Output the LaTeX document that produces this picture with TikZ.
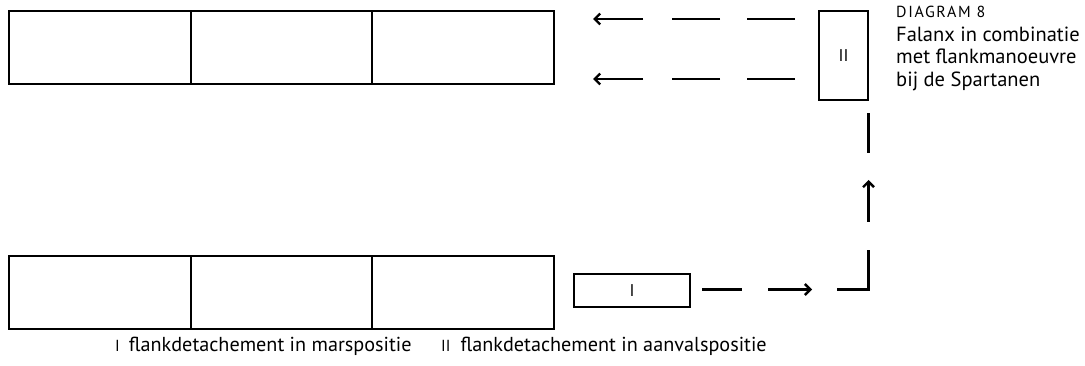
\documentclass[tikz,border=0pt]{standalone}
\usepackage{fontspec}
\setmainfont{PT Sans}
\usetikzlibrary{arrows.meta}
\begin{document}
\begin{tikzpicture}[x=1pt,y=-1pt,
  cell/.style={draw, line width=2.7pt, inner sep=0pt},
  det/.style={draw, line width=2.7pt, inner sep=0pt, font=\fontsize{17}{17}\selectfont},
  mv/.style={line width=2.4pt},
  mva/.style={line width=2.4pt, -{Straight Barb[length=5.5pt,width=11pt,line width=2.4pt]}},
  txt/.style={font=\fontsize{20.5}{22}\selectfont, inner sep=0pt, anchor=base west},
  leg/.style={font=\fontsize{20.2}{22}\selectfont, inner sep=0pt, anchor=base west}
]
\useasboundingbox (0,0) rectangle (1085,366);
% top phalanx
\node[cell, minimum width=182pt, minimum height=73pt] (t1) at (100,47.5) {};
\node[cell, minimum width=181pt, minimum height=73pt] (t2) at (281.5,47.5) {};
\node[cell, minimum width=182pt, minimum height=73pt] (t3) at (463,47.5) {};
% bottom phalanx
\node[cell, minimum width=182pt, minimum height=73pt] (b1) at (100,292.5) {};
\node[cell, minimum width=181pt, minimum height=73pt] (b2) at (281.5,292.5) {};
\node[cell, minimum width=182pt, minimum height=73pt] (b3) at (463,292.5) {};
% detachments
\node[det, minimum width=116pt, minimum height=33pt] (I) at (632,290.5) {I};
\node[det, minimum width=49pt, minimum height=89pt] (II) at (843.5,55.5) {II};
% top arrows
\coordinate (u1) at (795,19); \coordinate (u2) at (747,19);
\coordinate (u3) at (720,19); \coordinate (u4) at (672,19);
\coordinate (u5) at (643,19); \coordinate (u6) at (593,19);
\draw[mv] (u1) -- (u2); \draw[mv] (u3) -- (u4); \draw[mva] (u5) -- (u6);
\coordinate (l1) at (795,79); \coordinate (l2) at (747,79);
\coordinate (l3) at (720,79); \coordinate (l4) at (672,79);
\coordinate (l5) at (643,79); \coordinate (l6) at (593,79);
\draw[mv] (l1) -- (l2); \draw[mv] (l3) -- (l4); \draw[mva] (l5) -- (l6);
% flank path from I to II
\coordinate (p1) at (702,289.5); \coordinate (p2) at (742,289.5);
\coordinate (p3) at (768,289.5); \coordinate (p4) at (812,289.5);
\coordinate (p5) at (837,289.5); \coordinate (p6) at (868.5,289.5);
\coordinate (p7) at (868.5,250); \coordinate (p8) at (868.5,222);
\coordinate (p9) at (868.5,180); \coordinate (p10) at (868.5,153);
\coordinate (p11) at (868.5,113);
\draw[mv] (p1) -- (p2); \draw[mva] (p3) -- (p4);
\draw[mv] (p5) -- (p6) -- (p7); \draw[mva] (p8) -- (p9);
\draw[mv] (p10) -- (p11);
% title
\node[txt] (title) at (896,18) {\fontsize{16}{16}\selectfont\addfontfeature{LetterSpace=10}DIAGRAM 8};
\node[txt] (l1t) at (896,41.5) {Falanx in combinatie};
\node[txt] (l2t) at (896,64) {met flankmanoeuvre};
\node[txt] (l3t) at (896,86.5) {bij de Spartanen};
% legend
\node[leg] (legI) at (115,352) {{\fontsize{16}{16}\selectfont I}\hspace{9pt}flankdetachement in marspositie};
\node[leg] (legII) at (441,352) {{\fontsize{16}{16}\selectfont II}\hspace{10pt}flankdetachement in aanvalspositie};
\end{tikzpicture}
\end{document}
